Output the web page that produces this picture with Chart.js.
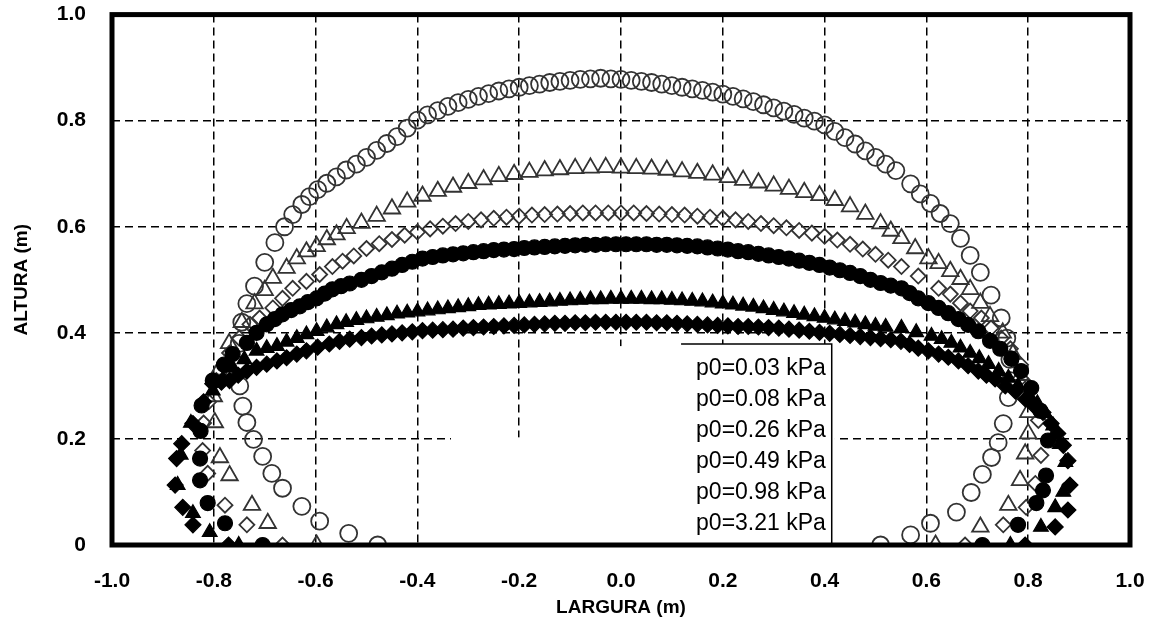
<!DOCTYPE html>
<html>
<head>
<meta charset="utf-8">
<script src="https://cdn.jsdelivr.net/npm/chart.js@4.4.1/dist/chart.umd.min.js"></script>
<style>
  html, body { margin: 0; padding: 0; background: #fff; }
</style>
</head>
<body>
<canvas id="chart" width="1157" height="628"></canvas>
<script>
// --- datos: [largura, altura] en m ---
const seriesLabels = ['p0=0.03 kPa', 'p0=0.08 kPa', 'p0=0.26 kPa', 'p0=0.49 kPa', 'p0=0.98 kPa', 'p0=3.21 kPa'];
const xTickLabels = ['-1.0', '-0.8', '-0.6', '-0.4', '-0.2', '0.0', '0.2', '0.4', '0.6', '0.8', '1.0'];
const yTickLabels = ['0', '0.2', '0.4', '0.6', '0.8', '1.0'];

const p003 = [
  [-0.478,0],[-0.535,0.022],[-0.592,0.045],[-0.627,0.073],[-0.665,0.107],[-0.686,0.135],[-0.704,0.167],
  [-0.722,0.199],[-0.735,0.231],[-0.743,0.262],[-0.749,0.300],[-0.752,0.340],[-0.750,0.380],[-0.745,0.420],
  [-0.735,0.455],[-0.720,0.488],[-0.700,0.533],[-0.680,0.570],[-0.661,0.600],[-0.645,0.623],[-0.627,0.642],
  [-0.612,0.657],[-0.596,0.670],[-0.578,0.682],[-0.559,0.694],[-0.540,0.707],[-0.52,0.718],[-0.50,0.731],
  [-0.48,0.744],[-0.46,0.757],[-0.44,0.770],[-0.42,0.786],[-0.40,0.801],[-0.38,0.811],[-0.36,0.819],
  [-0.34,0.827],[-0.32,0.834],[-0.30,0.840],[-0.28,0.846],[-0.26,0.851],[-0.24,0.856],[-0.22,0.860],
  [-0.20,0.863],[-0.18,0.866],[-0.16,0.869],[-0.14,0.872],[-0.12,0.874],[-0.10,0.876],[-0.08,0.878],
  [-0.06,0.879],[-0.04,0.880],[-0.02,0.879],[0.00,0.878],[0.02,0.876],[0.04,0.874],[0.06,0.872],
  [0.08,0.869],[0.10,0.866],[0.12,0.863],[0.14,0.860],[0.16,0.857],[0.18,0.854],[0.20,0.850],
  [0.22,0.846],[0.24,0.841],[0.26,0.836],[0.28,0.830],[0.30,0.824],[0.32,0.818],[0.34,0.812],
  [0.36,0.805],[0.38,0.799],[0.40,0.792],[0.42,0.780],[0.44,0.768],[0.46,0.756],[0.48,0.743],
  [0.50,0.731],[0.52,0.718],[0.54,0.706],[0.569,0.681],[0.588,0.662],[0.608,0.644],[0.627,0.625],
  [0.647,0.606],[0.667,0.578],[0.686,0.546],[0.706,0.514],[0.727,0.471],[0.747,0.428],[0.758,0.390],
  [0.764,0.350],[0.765,0.310],[0.761,0.278],[0.751,0.229],[0.741,0.193],[0.728,0.165],[0.710,0.133],
  [0.688,0.099],[0.659,0.062],[0.608,0.041],[0.569,0.019],[0.510,0]
];

const p008 = [
  [-0.598,0],[-0.694,0.041],[-0.725,0.075],[-0.769,0.131],[-0.788,0.165],[-0.798,0.231],[-0.800,0.280],
  [-0.790,0.330],[-0.770,0.380],[-0.745,0.420],[-0.720,0.455],[-0.700,0.480],[-0.684,0.503],[-0.657,0.522],
  [-0.637,0.540],[-0.618,0.553],[-0.598,0.563],[-0.578,0.576],[-0.559,0.585],[-0.539,0.597],[-0.51,0.607],
  [-0.48,0.620],[-0.45,0.634],[-0.42,0.647],[-0.39,0.658],[-0.36,0.667],[-0.33,0.675],[-0.30,0.682],
  [-0.27,0.689],[-0.24,0.695],[-0.21,0.699],[-0.18,0.703],[-0.15,0.706],[-0.12,0.708],[-0.09,0.710],
  [-0.06,0.711],[-0.03,0.712],[0.00,0.711],[0.03,0.710],[0.06,0.709],[0.09,0.707],[0.12,0.704],
  [0.15,0.701],[0.18,0.698],[0.21,0.693],[0.24,0.688],[0.27,0.683],[0.30,0.677],[0.33,0.671],
  [0.36,0.665],[0.39,0.659],[0.42,0.650],[0.45,0.638],[0.48,0.624],[0.51,0.606],[0.53,0.592],
  [0.551,0.578],[0.578,0.559],[0.604,0.540],[0.624,0.531],[0.647,0.516],[0.667,0.501],[0.686,0.482],
  [0.706,0.456],[0.725,0.431],[0.750,0.400],[0.770,0.360],[0.785,0.320],[0.795,0.285],[0.800,0.250],
  [0.800,0.210],[0.794,0.172],[0.784,0.122],[0.761,0.075],[0.706,0.034],[0.618,0]
];

const p026 = [
  [-0.665,0],[-0.735,0.038],[-0.778,0.075],[-0.812,0.135],[-0.822,0.178],[-0.820,0.230],[-0.810,0.270],
  [-0.795,0.310],[-0.769,0.362],[-0.750,0.390],[-0.729,0.416],[-0.710,0.428],[-0.684,0.447],[-0.665,0.465],
  [-0.645,0.484],[-0.618,0.497],[-0.592,0.510],[-0.567,0.525],[-0.547,0.535],[-0.525,0.545],[-0.500,0.559],
  [-0.475,0.568],[-0.450,0.576],[-0.425,0.584],[-0.400,0.590],[-0.375,0.596],[-0.350,0.601],[-0.325,0.606],
  [-0.300,0.610],[-0.275,0.613],[-0.250,0.616],[-0.225,0.618],[-0.200,0.620],[-0.175,0.622],[-0.150,0.623],
  [-0.125,0.624],[-0.100,0.625],[-0.075,0.626],[-0.050,0.626],[-0.025,0.626],[0.000,0.626],[0.025,0.626],
  [0.050,0.625],[0.075,0.624],[0.100,0.623],[0.125,0.622],[0.150,0.620],[0.175,0.618],[0.200,0.616],
  [0.225,0.613],[0.250,0.610],[0.275,0.606],[0.300,0.602],[0.325,0.598],[0.350,0.593],[0.375,0.588],
  [0.400,0.582],[0.425,0.575],[0.450,0.567],[0.475,0.558],[0.500,0.548],[0.525,0.537],[0.551,0.525],
  [0.584,0.507],[0.624,0.484],[0.647,0.473],[0.667,0.456],[0.686,0.441],[0.708,0.428],[0.727,0.409],
  [0.747,0.390],[0.765,0.370],[0.785,0.340],[0.800,0.300],[0.820,0.235],[0.825,0.169],[0.814,0.116],
  [0.796,0.071],[0.751,0.038],[0.676,0]
];

const p049 = [
  [-0.704,0],[-0.778,0.041],[-0.812,0.079],[-0.827,0.122],[-0.827,0.163],[-0.826,0.215],[-0.824,0.263],
  [-0.802,0.310],[-0.780,0.340],[-0.763,0.360],[-0.735,0.381],[-0.716,0.400],[-0.696,0.416],[-0.680,0.426],
  [-0.665,0.435],[-0.648,0.443],[-0.631,0.450],[-0.615,0.458],[-0.598,0.465],[-0.582,0.474],[-0.567,0.482],
  [-0.550,0.488],[-0.533,0.493],[-0.51,0.500],[-0.49,0.507],[-0.47,0.514],[-0.45,0.521],[-0.43,0.528],
  [-0.41,0.534],[-0.39,0.540],[-0.37,0.543],[-0.35,0.546],[-0.33,0.548],[-0.31,0.550],[-0.29,0.552],
  [-0.27,0.554],[-0.25,0.556],[-0.23,0.557],[-0.21,0.558],[-0.19,0.560],[-0.17,0.561],[-0.15,0.562],
  [-0.13,0.563],[-0.11,0.564],[-0.09,0.565],[-0.07,0.566],[-0.05,0.566],[-0.03,0.567],[-0.01,0.567],
  [0.01,0.567],[0.03,0.567],[0.05,0.567],[0.07,0.566],[0.09,0.566],[0.11,0.565],[0.13,0.564],
  [0.15,0.563],[0.17,0.561],[0.19,0.559],[0.21,0.557],[0.23,0.554],[0.25,0.552],[0.27,0.549],
  [0.29,0.546],[0.31,0.543],[0.33,0.540],[0.35,0.536],[0.37,0.532],[0.39,0.528],[0.41,0.523],
  [0.43,0.518],[0.45,0.513],[0.47,0.507],[0.49,0.500],[0.51,0.494],[0.53,0.489],[0.551,0.484],
  [0.567,0.475],[0.584,0.465],[0.604,0.456],[0.624,0.447],[0.643,0.437],[0.663,0.426],[0.682,0.415],
  [0.702,0.403],[0.725,0.385],[0.745,0.370],[0.767,0.351],[0.786,0.328],[0.806,0.296],[0.824,0.253],
  [0.839,0.197],[0.835,0.131],[0.829,0.103],[0.816,0.079],[0.780,0.038],[0.710,0]
];

const p098 = [
  [-0.751,0],[-0.808,0.024],[-0.841,0.060],[-0.871,0.113],[-0.865,0.170],[-0.845,0.230],[-0.802,0.291],
  [-0.782,0.313],[-0.763,0.334],[-0.740,0.350],[-0.716,0.366],[-0.696,0.371],[-0.676,0.375],[-0.657,0.383],
  [-0.637,0.390],[-0.618,0.397],[-0.598,0.403],[-0.578,0.410],[-0.559,0.416],[-0.54,0.420],[-0.52,0.424],
  [-0.50,0.427],[-0.48,0.430],[-0.46,0.433],[-0.44,0.436],[-0.42,0.438],[-0.40,0.440],[-0.38,0.442],
  [-0.36,0.444],[-0.34,0.446],[-0.32,0.448],[-0.30,0.450],[-0.28,0.452],[-0.26,0.453],[-0.24,0.454],
  [-0.22,0.455],[-0.20,0.456],[-0.18,0.457],[-0.16,0.458],[-0.14,0.459],[-0.12,0.460],[-0.10,0.461],
  [-0.08,0.462],[-0.06,0.463],[-0.04,0.463],[-0.02,0.464],[0.00,0.464],[0.02,0.464],[0.04,0.464],
  [0.06,0.463],[0.08,0.463],[0.10,0.462],[0.12,0.461],[0.14,0.460],[0.16,0.459],[0.18,0.457],
  [0.20,0.455],[0.22,0.453],[0.24,0.451],[0.26,0.449],[0.28,0.446],[0.30,0.443],[0.32,0.440],
  [0.34,0.437],[0.36,0.434],[0.38,0.431],[0.40,0.428],[0.42,0.425],[0.44,0.422],[0.46,0.419],
  [0.48,0.416],[0.50,0.413],[0.52,0.411],[0.551,0.409],[0.580,0.401],[0.610,0.394],[0.630,0.388],
  [0.649,0.381],[0.667,0.372],[0.686,0.362],[0.704,0.352],[0.722,0.341],[0.742,0.328],[0.761,0.315],
  [0.780,0.300],[0.800,0.285],[0.818,0.267],[0.833,0.248],[0.849,0.225],[0.862,0.190],[0.873,0.156],
  [0.869,0.100],[0.853,0.071],[0.825,0.034],[0.765,0]
];

const p321 = [
  [-0.771,0],[-0.841,0.038],[-0.861,0.071],[-0.876,0.113],[-0.873,0.163],[-0.863,0.191],[-0.841,0.229],
  [-0.820,0.270],[-0.802,0.304],[-0.785,0.307],[-0.769,0.310],[-0.752,0.320],[-0.735,0.328],[-0.716,0.335],
  [-0.696,0.341],[-0.676,0.347],[-0.657,0.353],[-0.637,0.360],[-0.618,0.366],[-0.596,0.373],[-0.573,0.379],
  [-0.553,0.384],[-0.533,0.388],[-0.51,0.391],[-0.49,0.394],[-0.47,0.396],[-0.45,0.398],[-0.43,0.400],
  [-0.41,0.402],[-0.39,0.404],[-0.37,0.405],[-0.35,0.406],[-0.33,0.407],[-0.31,0.409],[-0.29,0.410],
  [-0.27,0.411],[-0.25,0.412],[-0.23,0.413],[-0.21,0.414],[-0.19,0.415],[-0.17,0.416],[-0.15,0.417],
  [-0.13,0.418],[-0.11,0.418],[-0.09,0.419],[-0.07,0.419],[-0.05,0.420],[-0.03,0.420],[-0.01,0.420],
  [0.01,0.420],[0.03,0.420],[0.05,0.420],[0.07,0.419],[0.09,0.419],[0.11,0.418],[0.13,0.417],
  [0.15,0.416],[0.17,0.415],[0.19,0.414],[0.21,0.413],[0.23,0.412],[0.25,0.412],[0.27,0.411],
  [0.29,0.410],[0.31,0.409],[0.33,0.407],[0.35,0.405],[0.37,0.403],[0.39,0.401],[0.41,0.399],
  [0.43,0.397],[0.45,0.395],[0.47,0.393],[0.49,0.391],[0.51,0.389],[0.53,0.387],[0.55,0.384],
  [0.567,0.378],[0.584,0.371],[0.604,0.366],[0.624,0.360],[0.643,0.354],[0.663,0.347],[0.682,0.338],
  [0.702,0.328],[0.718,0.320],[0.735,0.313],[0.755,0.300],[0.775,0.290],[0.795,0.275],[0.812,0.262],
  [0.829,0.250],[0.845,0.229],[0.858,0.210],[0.869,0.188],[0.878,0.159],[0.882,0.113],[0.878,0.066],
  [0.853,0.034],[0.794,0]
];

const allSeries = [p003, p008, p026, p049, p098, p321];

// estilos de marcador (huecos los tres primeros, rellenos los tres últimos)
const pointStyles = ['circle', 'triangle', 'rectRot', 'circle', 'triangle', 'rectRot'];
const pointSizes = [8.5, 9.5, 7.5, 7.5, 8.5, 8];
const filled = [false, false, false, true, true, true];

const FONT = "'Liberation Sans', Arial, Helvetica, sans-serif";

const datasets = allSeries.map((s, i) => ({
  label: seriesLabels[i],
  data: s.map(p => ({ x: p[0], y: p[1] })),
  pointStyle: pointStyles[i],
  pointRadius: pointSizes[i],
  pointHoverRadius: pointSizes[i],
  borderWidth: filled[i] ? 1.2 : 1.8,
  borderColor: filled[i] ? '#000' : '#333',
  backgroundColor: filled[i] ? '#000' : 'rgba(0,0,0,0)',
  showLine: false,
  order: 6 - i
}));

// zonas blancas del original (tapan la rejilla tras la leyenda)
const whiteout = {
  id: 'whiteout',
  beforeDatasetsDraw(chart) {
    const { ctx, scales: { x, y } } = chart;
    ctx.save();
    ctx.fillStyle = '#fff';
    const rects = [[-0.334, 0.203, 0.42, 0], [-0.1, 0.375, 0.42, 0]];
    rects.forEach(([x0, y0, x1, y1]) => {
      const px0 = x.getPixelForValue(x0), px1 = x.getPixelForValue(x1);
      const py0 = y.getPixelForValue(y0), py1 = y.getPixelForValue(y1);
      ctx.fillRect(px0, py0, px1 - px0, py1 - py0);
    });
    ctx.restore();
  }
};

// marco grueso y leyenda en caja
const frameAndLegend = {
  id: 'frameAndLegend',
  afterDraw(chart) {
    const { ctx, chartArea: a, scales: { x, y } } = chart;
    ctx.save();
    const bx0 = x.getPixelForValue(0.118), bx1 = x.getPixelForValue(0.414);
    const by0 = y.getPixelForValue(0.379), by1 = a.bottom;
    ctx.fillStyle = '#fff';
    ctx.fillRect(bx0, by0, bx1 - bx0, by1 - by0);
    ctx.strokeStyle = '#000';
    ctx.lineWidth = 1.5;
    ctx.beginPath();
    ctx.moveTo(bx0, by0);
    ctx.lineTo(bx1, by0);
    ctx.lineTo(bx1, by1);
    ctx.stroke();
    ctx.fillStyle = '#000';
    ctx.font = '23px ' + FONT;
    ctx.textBaseline = 'middle';
    ctx.textAlign = 'left';
    seriesLabels.forEach((t, i) => ctx.fillText(t, bx0 + 15, by0 + 25 + i * 31));
    ctx.lineWidth = 5;
    ctx.strokeRect(a.left, a.top, a.right - a.left, a.bottom - a.top);
    ctx.restore();
  }
};

const tickFont = { family: FONT, size: 21, weight: 'bold' };
const titleFont = { family: FONT, size: 19, weight: 'bold' };

new Chart(document.getElementById('chart'), {
  type: 'scatter',
  data: { datasets },
  options: {
    responsive: false,
    animation: false,
    layout: { padding: { top: 12, right: 27, left: 0, bottom: 0 } },
    plugins: { legend: { display: false }, tooltip: { enabled: false } },
    scales: {
      x: {
        type: 'linear',
        min: -1, max: 1,
        afterFit: s => { s.height = 83; },
        ticks: { stepSize: 0.2, padding: 1, color: '#000', font: tickFont, callback: (v, i) => xTickLabels[i] },
        grid: { color: '#000', lineWidth: 1.5, drawTicks: true, tickLength: 23, tickColor: 'rgba(0,0,0,0)' },
        border: { display: false, dash: [8, 5] },
        title: { display: true, text: 'LARGURA (m)', color: '#000', font: titleFont, padding: { top: 0, bottom: 9 } }
      },
      y: {
        type: 'linear',
        min: 0, max: 1,
        afterFit: s => { s.width = 112; },
        ticks: { stepSize: 0.2, padding: 2, color: '#000', font: tickFont, callback: (v, i) => yTickLabels[i] },
        grid: { color: '#000', lineWidth: 1.5, drawTicks: true, tickLength: 24, tickColor: 'rgba(0,0,0,0)' },
        border: { display: false, dash: [8, 5] },
        title: { display: true, text: 'ALTURA (m)', color: '#000', font: titleFont, padding: { top: 10, bottom: 0 } }
      }
    }
  },
  plugins: [whiteout, frameAndLegend]
});
</script>
</body>
</html>
